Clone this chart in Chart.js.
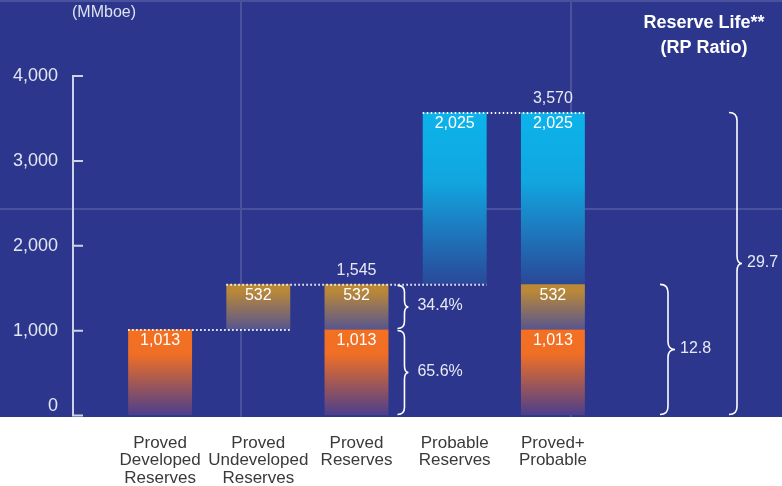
<!DOCTYPE html>
<html>
<head>
<meta charset="utf-8">
<script src="https://cdn.jsdelivr.net/npm/chart.js@4/dist/chart.umd.min.js"></script>
<style>
  html, body { margin: 0; padding: 0; background: #ffffff; }
  #wrap { width: 782px; height: 486px; }
</style>
</head>
<body>
<div id="wrap"><canvas id="reserves" width="782" height="486"></canvas></div>
<script>
// Reserve categories along the x axis
const categories = [
  ['Proved', 'Developed', 'Reserves'],
  ['Proved', 'Undeveloped', 'Reserves'],
  ['Proved', 'Reserves'],
  ['Probable', 'Reserves'],
  ['Proved+', 'Probable']
];

// Floating segments [from, to] in MMboe
const provedDeveloped   = [[0, 1013], null, [0, 1013], null, [0, 1013]];
const provedUndeveloped = [null, [1013, 1545], [1013, 1545], null, [1013, 1545]];
const probable          = [null, null, null, [1545, 3570], [1545, 3570]];

// Totals printed above the stacks
const totals = [null, null, 1545, null, 3570];

// Dotted connectors: level, first bar, last bar
const connectors = [
  { value: 1013, from: 0, to: 1 },
  { value: 1545, from: 1, to: 3 },
  { value: 3570, from: 3, to: 4 }
];

// Reserve life (RP ratio, years) spanning 0 .. upper level
const reserveLife = [
  { upTo: 1545, years: '12.8' },
  { upTo: 3570, years: '29.7' }
];

// Y axis ticks
const yTicks = [0, 1000, 2000, 3000, 4000];

const FONT = "'Liberation Sans', Arial, Helvetica, sans-serif";
const BG = '#2b368c';

function fmt(v) { return v.toLocaleString('en-US'); }

function segmentFill(stops) {
  return (ctx) => {
    const chart = ctx.chart;
    const raw = ctx.raw;
    if (!chart.chartArea || !raw || !chart.scales.y) return stops[0][1];
    const y = chart.scales.y;
    const top = y.getPixelForValue(raw[1]);
    const bottom = y.getPixelForValue(raw[0]);
    const g = chart.ctx.createLinearGradient(0, top, 0, bottom);
    stops.forEach(([o, c]) => g.addColorStop(o, c));
    return g;
  };
}

function brace(ctx, x, y1, y2, hook, tip) {
  const xv = x + hook;
  const ym = (y1 + y2) / 2;
  const r = Math.min(hook, (y2 - y1) / 4);
  ctx.beginPath();
  ctx.moveTo(x, y1);
  ctx.quadraticCurveTo(xv, y1, xv, y1 + r);
  ctx.lineTo(xv, ym - r);
  ctx.quadraticCurveTo(xv, ym, xv + tip, ym);
  ctx.quadraticCurveTo(xv, ym, xv, ym + r);
  ctx.lineTo(xv, y2 - r);
  ctx.quadraticCurveTo(xv, y2, x, y2);
  ctx.stroke();
}

const decorations = {
  id: 'decorations',
  beforeDraw(chart) {
    const { ctx, width } = chart;
    const y = chart.scales.y;
    const panelBottom = y.getPixelForValue(0) + 1.5;
    ctx.save();
    ctx.fillStyle = '#ffffff';
    ctx.fillRect(0, 0, width, chart.height);
    ctx.fillStyle = BG;
    ctx.fillRect(0, 0, width, panelBottom);
    // faint panel rules
    ctx.strokeStyle = '#4a529f';
    ctx.lineWidth = 2;
    ctx.beginPath();
    ctx.moveTo(0, 1); ctx.lineTo(width, 1);
    ctx.moveTo(0, 209); ctx.lineTo(width, 209);
    ctx.moveTo(241, 0); ctx.lineTo(241, panelBottom);
    ctx.moveTo(571, 0); ctx.lineTo(571, panelBottom);
    ctx.stroke();
    ctx.restore();
  },
  afterDatasetsDraw(chart) {
    const { ctx, chartArea } = chart;
    const x = chart.scales.x;
    const y = chart.scales.y;
    ctx.save();

    // bracket-style value axis
    const ax = chartArea.left - 38;
    ctx.strokeStyle = '#cfd2e6';
    ctx.lineWidth = 2;
    ctx.beginPath();
    ctx.moveTo(ax, y.getPixelForValue(yTicks[yTicks.length - 1]));
    ctx.lineTo(ax, y.getPixelForValue(0));
    yTicks.forEach(v => {
      const py = y.getPixelForValue(v);
      ctx.moveTo(ax - 1, py);
      ctx.lineTo(ax + 10, py);
    });
    ctx.stroke();
    ctx.fillStyle = '#e4e6f2';
    ctx.font = '18px ' + FONT;
    ctx.textAlign = 'right';
    ctx.textBaseline = 'middle';
    ctx.fillText('0', ax - 15, y.getPixelForValue(0) - 9);

    // bar geometry from the first dataset meta that has an element there
    const barHalf = (i) => {
      for (let d = 0; d < chart.data.datasets.length; d++) {
        const el = chart.getDatasetMeta(d).data[i];
        if (el && chart.data.datasets[d].data[i]) return el.width / 2;
      }
      return 32;
    };

    // dotted connectors
    ctx.strokeStyle = '#ffffff';
    ctx.lineWidth = 2;
    ctx.setLineDash([1.5, 2.5]);
    connectors.forEach(c => {
      const py = y.getPixelForValue(c.value) + 0.5;
      ctx.beginPath();
      ctx.moveTo(x.getPixelForValue(c.from) - barHalf(c.from), py);
      ctx.lineTo(x.getPixelForValue(c.to) + barHalf(c.to), py);
      ctx.stroke();
    });
    ctx.setLineDash([]);

    // values inside segments
    ctx.fillStyle = '#ffffff';
    ctx.font = '16px ' + FONT;
    ctx.textAlign = 'center';
    ctx.textBaseline = 'middle';
    chart.data.datasets.forEach((ds, d) => {
      chart.getDatasetMeta(d).data.forEach((el, i) => {
        const v = ds.data[i];
        if (!v) return;
        ctx.fillText(fmt(v[1] - v[0]), el.x, y.getPixelForValue(v[1]) + 11.5);
      });
    });

    // totals above stacks
    ctx.fillStyle = '#e8e9f4';
    totals.forEach((t, i) => {
      if (t == null) return;
      ctx.fillText(fmt(t), x.getPixelForValue(i), y.getPixelForValue(t) - 14);
    });

    // share braces beside the proved stack
    const provedIdx = 2;
    const pd = provedDeveloped[provedIdx];
    const pu = provedUndeveloped[provedIdx];
    const total = pu[1];
    const bx = x.getPixelForValue(provedIdx) + barHalf(provedIdx) + 9;
    ctx.strokeStyle = '#ffffff';
    ctx.lineWidth = 1.6;
    ctx.textAlign = 'left';
    [[pu[0], pu[1]], [pd[0], pd[1]]].forEach(([lo, hi]) => {
      const y1 = y.getPixelForValue(hi) + 1;
      const y2 = y.getPixelForValue(lo) - 1;
      brace(ctx, bx, y1, y2, 7, 4);
      const pct = ((hi - lo) / total * 100).toFixed(1) + '%';
      ctx.fillText(pct, bx + 20, (y1 + y2) / 2 - 1);
    });

    // reserve life braces
    const rx = [chartArea.right + 58, chartArea.right + 127];
    const hooks = [[8, 7], [8, 5]];
    reserveLife.forEach((r, k) => {
      const y1 = y.getPixelForValue(r.upTo);
      const y2 = y.getPixelForValue(0) - 1;
      brace(ctx, rx[k], y1, y2, hooks[k][0], hooks[k][1]);
      ctx.fillText(r.years, rx[k] + hooks[k][0] + hooks[k][1] + 5, (y1 + y2) / 2 - 1);
    });

    // headings
    ctx.fillStyle = '#dfe1ef';
    ctx.font = '16px ' + FONT;
    ctx.textAlign = 'center';
    ctx.fillText('(MMboe)', 104, 13);
    ctx.fillStyle = '#ffffff';
    ctx.font = 'bold 18px ' + FONT;
    ctx.fillText('Reserve Life**', 704, 23);
    ctx.fillText('(RP Ratio)', 704, 48);
    ctx.restore();
  }
};

new Chart(document.getElementById('reserves'), {
  type: 'bar',
  data: {
    labels: categories,
    datasets: [
      {
        label: 'Proved Developed',
        data: provedDeveloped,
        backgroundColor: segmentFill([[0, '#f47021'], [0.28, '#f06f25'], [1, '#4a3e8c']])
      },
      {
        label: 'Proved Undeveloped',
        data: provedUndeveloped,
        backgroundColor: segmentFill([[0, '#bc8a34'], [0.15, '#b98838'], [1, '#57558f']])
      },
      {
        label: 'Probable',
        data: probable,
        backgroundColor: segmentFill([[0, '#0cb3ea'], [0.4, '#11a6e0'], [1, '#2a4898']])
      }
    ]
  },
  options: {
    responsive: false,
    animation: false,
    devicePixelRatio: 1,
    layout: { padding: { top: 76, right: 180, left: 0, bottom: 0 } },
    datasets: {
      bar: { grouped: false, barPercentage: 0.651, categoryPercentage: 1, borderWidth: 0 }
    },
    plugins: { legend: { display: false }, tooltip: { enabled: false } },
    scales: {
      x: {
        grid: { display: false },
        border: { display: false },
        ticks: {
          color: '#3a3a3a',
          padding: 11,
          maxRotation: 0,
          autoSkip: false,
          font: { family: FONT, size: 17, lineHeight: 1.03 }
        },
        afterFit(scale) { scale.height = 70.5; }
      },
      y: {
        min: 0,
        max: 4000,
        grid: { display: false },
        border: { display: false },
        afterBuildTicks(scale) { scale.ticks = yTicks.map(v => ({ value: v })); },
        ticks: {
          color: '#e4e6f2',
          padding: 45,
          font: { family: FONT, size: 18 },
          callback: (v) => v === 0 ? '' : fmt(v)
        },
        afterFit(scale) { scale.width = 111; }
      }
    }
  },
  plugins: [decorations]
});
</script>
</body>
</html>
